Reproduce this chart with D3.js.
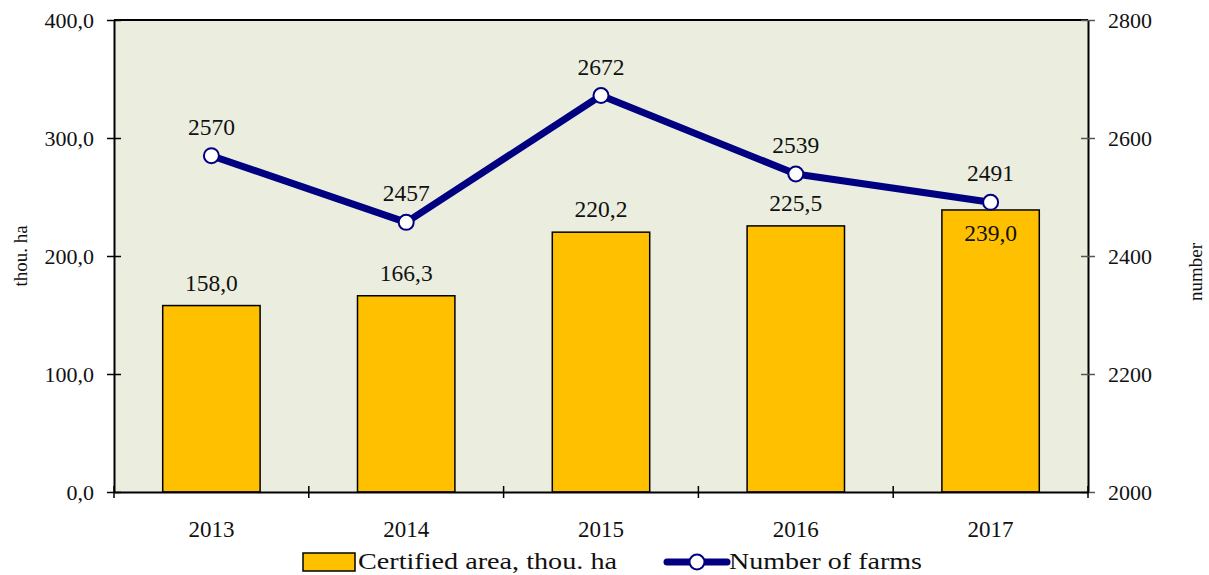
<!DOCTYPE html>
<html>
<head>
<meta charset="utf-8">
<script src="https://cdn.jsdelivr.net/npm/d3@7"></script>
<style>
  body { margin: 0; background: #fff; }
  svg text { font-family: "Liberation Serif", serif; fill: #111; }
</style>
</head>
<body>
<svg id="canvas" width="1209" height="575"></svg>
<script>
// data
let years = ['2013', '2014', '2015', '2016', '2017']
let area = [158.0, 166.3, 220.2, 225.5, 239.0]      // thou. ha
let farms = [2570, 2457, 2672, 2539, 2491]          // number
let leftTicks = [0, 100, 200, 300, 400]
let rightTicks = [2000, 2200, 2400, 2600, 2800]

let svg = d3.select('#canvas')
let plotL = 114, plotR = 1088, plotT = 20, plotB = 492

let x = d3.scaleBand().domain(years).range([plotL, plotR])
let yL = d3.scaleLinear().domain([0, 400]).range([plotB, plotT])
let yR = d3.scaleLinear().domain([2000, 2800]).range([plotB, plotT])
let comma = (v) => v.toFixed(1).replace('.', ',')

// plot background
svg.append('rect')
    .attr('x', plotL).attr('y', plotT)
    .attr('width', plotR - plotL).attr('height', plotB - plotT)
    .attr('fill', '#ebeedf')
svg.append('line')
    .attr('x1', plotL).attr('x2', plotR).attr('y1', plotT).attr('y2', plotT)
    .attr('stroke', '#000').attr('stroke-width', 2)

// bars
svg.selectAll('.bar')
    .data(years)
    .enter()
    .append('rect')
    .attr('class', 'bar')
    .attr('x', (d) => x(d) + x.bandwidth() / 4)
    .attr('width', x.bandwidth() / 2)
    .attr('y', (d, i) => yL(area[i]))
    .attr('height', (d, i) => plotB - yL(area[i]))
    .attr('fill', '#ffc000')
    .attr('stroke', '#000')
    .attr('stroke-width', 1.5)

svg.selectAll('.barlabel')
    .data(years)
    .enter()
    .append('text')
    .attr('x', (d) => x(d) + x.bandwidth() / 2)
    .attr('y', (d, i) => i == 4 ? yL(area[i]) + 31 : yL(area[i]) - 15)
    .attr('text-anchor', 'middle')
    .style('font-size', '23.5px')
    .text((d, i) => comma(area[i]))

// axes
let axL = d3.axisLeft(yL).tickValues(leftTicks).tickSize(0).tickFormat(comma)
let gL = svg.append('g').attr('transform', `translate(${plotL},0)`).call(axL)
gL.select('.domain').attr('stroke', '#000').attr('stroke-width', 2)
gL.selectAll('.tick line').attr('x1', -7).attr('x2', 7).attr('stroke', '#000').attr('stroke-width', 1.5)
gL.selectAll('.tick text').attr('x', -20).attr('dy', '0.35em').style('font-size', '22px')

let axR = d3.axisRight(yR).tickValues(rightTicks).tickSize(0).tickFormat(d3.format('d'))
let gR = svg.append('g').attr('transform', `translate(${plotR},0)`).call(axR)
gR.select('.domain').attr('stroke', '#000').attr('stroke-width', 2)
gR.selectAll('.tick line').attr('x1', -7).attr('x2', 7).attr('stroke', '#555').attr('stroke-width', 1.5)
gR.selectAll('.tick text').attr('x', 20).attr('dy', '0.35em').style('font-size', '22px')

let axB = d3.axisBottom(x).tickSize(0)
let gB = svg.append('g').attr('transform', `translate(0,${plotB})`).call(axB)
gB.select('.domain').attr('stroke', '#000').attr('stroke-width', 2)
gB.selectAll('.tick line').remove()
gB.selectAll('.tick text').attr('y', 29).style('font-size', '23px')
gB.selectAll('.sep')
    .data(d3.range(years.length + 1))
    .enter()
    .append('line')
    .attr('x1', (i) => plotL + i * x.step()).attr('x2', (i) => plotL + i * x.step())
    .attr('y1', -6).attr('y2', 6)
    .attr('stroke', '#000').attr('stroke-width', 1.5)

// axis titles
svg.append('text')
    .attr('transform', `translate(27,${(plotT + plotB) / 2}) rotate(-90)`)
    .attr('text-anchor', 'middle')
    .style('font-size', '19px')
    .text('thou. ha')
svg.append('text')
    .attr('transform', `translate(1202,${(plotT + plotB) / 2 + 16}) rotate(-90)`)
    .attr('text-anchor', 'middle')
    .style('font-size', '19px')
    .text('number')

// line series
let cx = (d) => x(d) + x.bandwidth() / 2
let line = d3.line().x((d) => cx(d)).y((d, i) => yR(farms[i]))
svg.append('path')
    .datum(years)
    .attr('d', line)
    .attr('fill', 'none')
    .attr('stroke', '#000080')
    .attr('stroke-width', 7)
    .attr('stroke-linejoin', 'round')

svg.selectAll('.dot')
    .data(years)
    .enter()
    .append('circle')
    .attr('cx', cx)
    .attr('cy', (d, i) => yR(farms[i]))
    .attr('r', 7.5)
    .attr('fill', '#fff')
    .attr('stroke', '#000080')
    .attr('stroke-width', 2)

svg.selectAll('.dotlabel')
    .data(years)
    .enter()
    .append('text')
    .attr('x', cx)
    .attr('y', (d, i) => yR(farms[i]) - 21)
    .attr('text-anchor', 'middle')
    .style('font-size', '23.5px')
    .text((d, i) => farms[i])

// legend
let lg = svg.append('g')
lg.append('rect')
    .attr('x', 303).attr('y', 553).attr('width', 52).attr('height', 18)
    .attr('fill', '#ffc000').attr('stroke', '#000').attr('stroke-width', 1.5)
lg.append('text')
    .attr('x', 358).attr('y', 569)
    .style('font-size', '24px')
    .attr('textLength', 259).attr('lengthAdjust', 'spacingAndGlyphs')
    .text('Certified area, thou. ha')
lg.append('line')
    .attr('x1', 667).attr('x2', 727).attr('y1', 562).attr('y2', 562)
    .attr('stroke', '#000080').attr('stroke-width', 7).attr('stroke-linecap', 'round')
lg.append('circle')
    .attr('cx', 697).attr('cy', 562).attr('r', 7.5)
    .attr('fill', '#fff').attr('stroke', '#000080').attr('stroke-width', 2)
lg.append('text')
    .attr('x', 729).attr('y', 569)
    .style('font-size', '24px')
    .attr('textLength', 193).attr('lengthAdjust', 'spacingAndGlyphs')
    .text('Number of farms')
</script>
</body>
</html>
